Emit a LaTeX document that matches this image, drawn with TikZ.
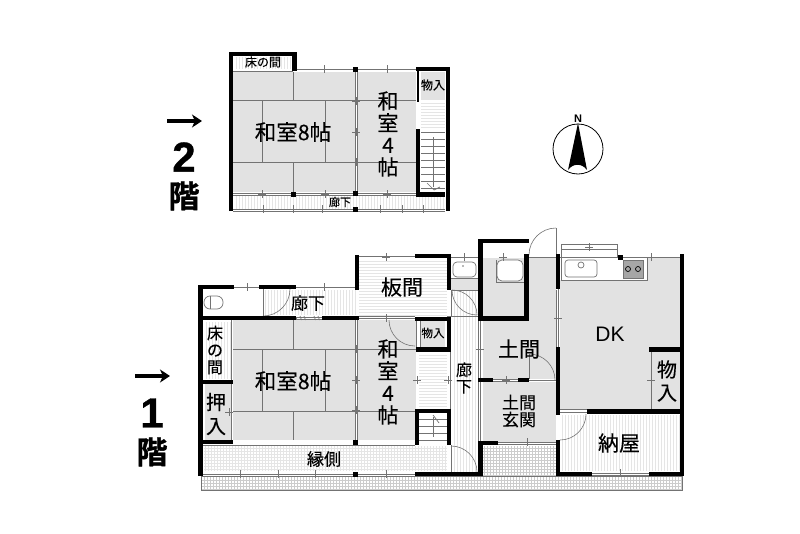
\documentclass[tikz,border=0pt]{standalone}
\usepackage{fontspec}
\newfontfamily\jp[FakeBold=0.25]{Noto Sans CJK JP}
\newfontfamily\jpheavy[FakeBold=1.2]{Noto Sans CJK JP Bold}
\newfontfamily\numheavy[FakeBold=0.8]{Liberation Sans Bold}
\setsansfont{Liberation Sans}
\usetikzlibrary{calc}
\usetikzlibrary{arrows.meta}
\definecolor{floorGray}{gray}{0.885}
\definecolor{hatchGray}{gray}{0.90}
\definecolor{gridGray}{gray}{0.80}
\definecolor{lineGray}{gray}{0.45}
\tikzset{
  wall/.style = {color=#1, line width=4.5pt},
  thin wall/.style = {color=#1, line width=0.7pt},
  hatch/.style = {color=#1, line width=0.35pt},
  door/.style = {color=#1, line width=0.6pt},
  tatami/.style = {color=#1, line width=0.8pt},
  mat/.style = {fill=#1},
  label/.style = {text=#1, inner sep=0pt, align=center}
}
\newcommand{\tick}[2][]{%
  % #1: optional scope keys
  % #2: centre of the cross
  \begin{scope}[shift={(#2)}, #1]
    \draw[thin wall={lineGray}] (-4,0) -- (4,0);
    \draw[thin wall={lineGray}] (0,-4) -- (0,4);
  \end{scope}
}
\newcommand{\post}[1]{\fill[black] ($(#1)+(-2.5,-2.5)$) rectangle ($(#1)+(2.5,2.5)$);}
\begin{document}
\begin{tikzpicture}[x=1pt,y=-1pt]

    \useasboundingbox (0,0) rectangle (800,533);

    % Second floor: floors
    \fill[mat={floorGray}] (233,72) rectangle (416,192);
    \fill[mat={floorGray}] (421,72) rectangle (445,100);
    \fill[white] (354.5,70) rectangle (357,193);
    \foreach \x in {236,239,...,290} {\draw[hatch={hatchGray}] (\x,57) -- (\x,69);}
    \foreach \y in {103,106,...,128} {\draw[hatch={hatchGray}] (421,\y) -- (445,\y);}
    \foreach \x in {236,239,...,444} {\draw[hatch={hatchGray}] (\x,196) -- (\x,209);}

    % Second floor: mat lines
    \draw[tatami={lineGray}] (233,100) -- (416,100);
    \draw[tatami={lineGray}] (233,162) -- (416,162);
    \draw[tatami={lineGray}] (262,100) -- (262,162);
    \draw[tatami={lineGray}] (325,100) -- (325,162);
    \draw[tatami={lineGray}] (293,72) -- (293,100);
    \draw[tatami={lineGray}] (293,162) -- (293,192);
    \draw[thin wall={lineGray}] (295,69) -- (416,69);
    \draw[thin wall={lineGray}] (355,70) -- (355,193);
    \draw[thin wall={lineGray}] (357,70) -- (357,193);
    \draw[thin wall={lineGray}] (233,71) -- (293,71);
    \draw[thin wall={lineGray}] (233,193) -- (416,193);
    \draw[thin wall={lineGray}] (233,195) -- (416,195);
    \draw[thin wall={lineGray}] (233,211) -- (445,211);
    \draw[thin wall={lineGray}] (233,209) -- (445,209);

    % Second floor: stairs
    \foreach \y in {132,139,...,188} {\draw[thin wall={lineGray}] (421,\y) -- (445,\y);}
    \draw[thin wall={lineGray}] (433,137) -- (433,187);
    \draw[thin wall={lineGray}] (427,183) -- (434,190) -- (440,187);

    % Second floor: walls
    \draw[wall={black}] (231.2,211) -- (231.2,54) -- (294.5,54) -- (294.5,71);
    \draw[wall={black}] (416,69.2) -- (447.8,69.2) -- (447.8,211);
    \draw[wall={black}] (418,129) -- (418,194.5) -- (445,194.5);
    \draw[black,line width=2pt] (418,71) -- (418,102);
    \post{355,69}
    \post{293,194}
    \post{355,193}
    \post{355,209}

    % Second floor: ticks
    \tick{324,69}
    \tick{387,69}
    \tick{356,101}
    \tick{356,132}
    \tick{356,162}
    \tick{262,194}
    \tick{325,194}
    \tick{387,194}
    \tick{263,209}
    \tick{293,209}
    \tick{322,209}
    \tick{380,209}
    \tick{402,209}
    \tick{423,209}

    % First floor: floors
    \fill[mat={floorGray}] (233,320) rectangle (416,440);
    \fill[mat={floorGray}] (205,384) rectangle (231,440);
    \fill[white] (354.5,320) rectangle (357,440);
    \fill[mat={floorGray}] (420,321) rectangle (445,347);
    \fill[mat={floorGray}] (483,258) rectangle (556,379);
    \fill[mat={floorGray}] (483,382) rectangle (556,442);
    \fill[mat={floorGray}] (560,280) rectangle (680,409);
    \fill[mat={floorGray}] (647,258) rectangle (680,280);
    \fill[mat={floorGray}] (451,278) rectangle (478,290);

    % First floor: hatches
    \foreach \y in {261,264,...,316} {\draw[hatch={hatchGray}] (359,\y) -- (447,\y);}
    \foreach \y in {355,358,...,408} {\draw[hatch={hatchGray}] (419,\y) -- (447,\y);}
    \foreach \x in {265,268,...,355} {\draw[hatch={hatchGray}] (\x,290) -- (\x,315);}
    \foreach \x in {454,457,...,477} {\draw[hatch={hatchGray}] (\x,291) -- (\x,472);}
    \foreach \x in {206,209,...,230} {\draw[hatch={hatchGray}] (\x,322) -- (\x,379);}
    \foreach \x in {562,565,...,679} {\draw[hatch={hatchGray}] (\x,415) -- (\x,471);}
    \foreach \x in {204,207,...,681} {\draw[hatch={gridGray}] (\x,477) -- (\x,489);}
    \foreach \y in {480,483,...,489} {\draw[hatch={gridGray}] (201,\y) -- (682,\y);}
    \foreach \x in {484,487,...,555} {\draw[hatch={gridGray}] (\x,446) -- (\x,476);}
    \foreach \y in {448,451,...,475} {\draw[hatch={gridGray}] (483,\y) -- (556,\y);}
    \foreach \x in {205,208,...,446} {\draw[hatch={hatchGray}] (\x,446) -- (\x,471);}
    \foreach \y in {448,451,...,471} {\draw[hatch={hatchGray}] (204,\y) -- (447,\y);}
    \draw[thin wall={lineGray}] (201,476) rectangle (682,490);

    % First floor: mat lines
    \draw[tatami={lineGray}] (233,349) -- (416,349);
    \draw[tatami={lineGray}] (233,411) -- (416,411);
    \draw[tatami={lineGray}] (262,349) -- (262,411);
    \draw[tatami={lineGray}] (325,349) -- (325,411);
    \draw[tatami={lineGray}] (293,320) -- (293,349);
    \draw[tatami={lineGray}] (293,411) -- (293,440);
    \draw[thin wall={lineGray}] (355,320) -- (355,440);
    \draw[thin wall={lineGray}] (357,320) -- (357,440);
    \draw[thin wall={lineGray}] (231,320) -- (231,380);
    \draw[thin wall={lineGray}] (231,384) -- (231,440);
    \draw[thin wall={lineGray}] (203,445) -- (415,445);
    \draw[thin wall={lineGray}] (234,287) -- (259,287);
    \draw[thin wall={lineGray}] (296,287) -- (357,287);
    \draw[thin wall={lineGray}] (359,256) -- (415,256);
    \draw[thin wall={lineGray}] (359,316) -- (415,316);
    \draw[thin wall={lineGray}] (358,318) -- (415,318);
    \draw[thin wall={lineGray}] (203,474) -- (415,474);
    \draw[thin wall={lineGray}] (451,257) -- (478,257);
    \draw[thin wall={lineGray}] (529,257) -- (556,257);
    \draw[thin wall={lineGray}] (451,290) -- (478,290);
    \draw[thin wall={lineGray}] (451,278) -- (478,278);
    \draw[thin wall={lineGray}] (447,316) -- (478,316);
    \draw[thin wall={lineGray}] (451,290) -- (451,316);
    \draw[thin wall={lineGray}] (478,290) -- (478,316);
    \draw[thin wall={lineGray}] (480,321) -- (480,441);
    \draw[thin wall={lineGray}] (478,321) -- (478,441);
    \draw[thin wall={lineGray}] (450,352) -- (450,409);
    \draw[thin wall={lineGray}] (558,289) -- (558,347);
    \draw[thin wall={lineGray}] (556,290) -- (556,347);
    \draw[thin wall={lineGray}] (493,379) -- (518,379);
    \draw[thin wall={lineGray}] (493,381) -- (518,381);
    \draw[thin wall={lineGray}] (529,380) -- (556,380);
    \draw[thin wall={lineGray}] (498,442) -- (556,442);
    \draw[thin wall={lineGray}] (498,444) -- (556,444);
    \draw[thin wall={lineGray}] (592,473) -- (649,473);
    \draw[thin wall={lineGray}] (592,475) -- (649,475);
    \draw[thin wall={lineGray}] (560,257) -- (680,257);
    \draw[thin wall={lineGray}] (651,352) -- (651,409);
    \draw[thin wall={lineGray}] (560,409) -- (587,409);
    \draw[thin wall={lineGray}] (560,412) -- (587,412);
    \draw[thin wall={lineGray}] (451,445) -- (451,472);
    \draw[thin wall={lineGray}] (416,321) -- (416,347);
    \draw[thin wall={lineGray}] (420,321) -- (420,347);

    % First floor: stairs
    \foreach \y in {419,426,...,440} {\draw[thin wall={lineGray}] (419,\y) -- (447,\y);}
    \draw[thin wall={lineGray}] (433,417) -- (433,437);
    \draw[thin wall={lineGray}] (433,415) -- (439,423);

    % First floor: fittings
    \draw[thin wall={lineGray}] (210,296) -- (210,309);
    \draw[thin wall={lineGray},rounded corners=6pt] (204,296) rectangle (223,309);
    \draw[thin wall={lineGray},rounded corners=4pt,fill=white] (453,262) rectangle (476,277);
    \fill[lineGray] (463,266) circle (0.8);
    \draw[thin wall={lineGray}] (496,260) -- (496,282) -- (524,282);
    \draw[thin wall={lineGray},rounded corners=5pt,fill=white] (497,260) rectangle (523,281);
    \draw[thin wall={lineGray}] (561,244) rectangle (617,257);
    \draw[thin wall={lineGray}] (561,249) -- (617,249);
    \fill[white] (561,258) rectangle (647,280);
    \draw[thin wall={lineGray}] (561,258) -- (561,280) -- (647,280) -- (647,258);
    \draw[thin wall={lineGray},rounded corners=3pt] (565,260) rectangle (597,277);
    \draw[thin wall={lineGray}] (581,265) circle (3);
    \draw[thin wall={lineGray},fill=black!35] (623,260) rectangle (643,278);
    \draw[thin wall={black}] (628,269) circle (2.5);
    \draw[thin wall={black}] (638,269) circle (2.5);
    \draw[thin wall={lineGray},fill=white] (296,317) rectangle (322,319);
    \foreach \x in {300,304,318,314} {\draw[thin wall={lineGray}] (\x,316) -- (\x+1.5,320);}

    % First floor: doors
    \draw[door={lineGray}] (263,289) -- (263,316);
    \draw[door={lineGray}] (263,316) arc (90:0:27);
    \draw[door={lineGray}] (556,255) -- (556,228);
    \draw[door={lineGray}] (529,255) arc (180:270:27);
    \draw[door={lineGray}] (452,290) arc (-90:0:25);
    \draw[door={lineGray}] (452,290) arc (180:90:25);
    \draw[door={lineGray}] (529,354) -- (529,379);
    \draw[door={lineGray}] (529,354) arc (-90:0:26);
    \draw[door={lineGray}] (586,414) arc (0:90:26);
    \draw[door={lineGray}] (451,446) arc (-90:0:26);
    \draw[door={lineGray}] (389,320) arc (180:90:26);

    % First floor: walls
    \draw[wall={black}] (200.5,476) -- (200.5,287) -- (234,287);
    \draw[wall={black}] (259,287) -- (296,287);
    \draw[wall={black}] (198,318) -- (296,318);
    \draw[wall={black}] (322,318) -- (359,318);
    \draw[wall={black}] (203,382) -- (233,382);
    \draw[wall={black}] (203,442) -- (233,442);
    \draw[wall={black}] (357,255) -- (357,290);
    \draw[wall={black}] (415,256) -- (449,256) -- (449,290);
    \draw[wall={black}] (415,319) -- (449,319) -- (449,349.5) -- (416,349.5);
    \draw[wall={black}] (417,445) -- (417,411) -- (449,411) -- (449,445);
    \draw[wall={black}] (415,474) -- (480.5,474) -- (480.5,443) -- (498,443);
    \draw[wall={black}] (480.5,321) -- (480.5,241) -- (529,241);
    \draw[wall={black}] (478,318.5) -- (526.5,318.5) -- (526.5,254);
    \draw[wall={black}] (558,254) -- (558,289);
    \draw[wall={black}] (558,347) -- (558,415);
    \draw[wall={black}] (558,440) -- (558,474) -- (592,474);
    \draw[wall={black}] (649,474) -- (682,474) -- (682,254);
    \draw[wall={black}] (649,349.5) -- (682,349.5);
    \draw[wall={black}] (587,411.5) -- (682,411.5);
    \draw[wall={black}] (478,380) -- (493,380);
    \draw[wall={black}] (518,380) -- (529,380);
    \post{355,442}
    \post{355,474}
    \post{620,257}

    % First floor: ticks
    \tick{247,287}
    \tick{324,287}
    \tick{386,257}
    \tick{386,318}
    \tick{356,349}
    \tick{356,380}
    \tick{356,410}
    \tick{229,412}
    \tick{417,380}
    \tick{240,474}
    \tick{278,474}
    \tick{315,474}
    \tick{386,474}
    \tick{464,257}
    \tick{503,257}
    \tick{589,247}
    \tick{651,257}
    \tick{558,318}
    \tick{480,349}
    \tick{506,380}
    \tick{448,380}
    \tick{651,380}
    \tick{527,442}
    \tick{620,473}

    % Floor marks
    \draw[black,line width=3.5pt,-{Stealth[length=10pt,width=13pt,inset=3pt]}] (167,121) -- (202,121);
    \draw[black,line width=3.5pt,-{Stealth[length=10pt,width=13pt,inset=3pt]}] (135,376) -- (170,376);
    \node[label={black},font=\numheavy\fontsize{42}{42}\selectfont] (n2) at (184,157) {2};
    \node[label={black},font=\jpheavy\fontsize{31}{31}\selectfont] (kai2) at (184,196) {階};
    \node[label={black},font=\numheavy\fontsize{42}{42}\selectfont] (n1) at (152,413) {1};
    \node[label={black},font=\jpheavy\fontsize{31}{31}\selectfont] (kai1) at (152,452) {階};

    % Compass
    \draw[black,line width=0.8pt] (578,149) circle (25);
    \fill[black] (578,123) -- (587,170) .. controls (582,163) and (573,163) .. (568,170) -- cycle;
    \node[label={black},font=\sffamily\bfseries\fontsize{11}{11}\selectfont] (north) at (578,119) {N};

    % Labels
    \node[label={black},font=\jp\fontsize{21.5}{21.5}\selectfont] (room8a) at (293,132) {和室8帖};
    \node[label={black},font=\jp\fontsize{21}{22}\selectfont] (room4a) at (388,134) {和\\室\\4\\帖};
    \node[label={black},font=\jp\fontsize{12}{12}\selectfont] (toko2) at (263,62) {床の間};
    \node[label={black},font=\jp\fontsize{12}{12}\selectfont] (mono2) at (433,85) {物入};
    \node[label={black},font=\jp\fontsize{11}{11}\selectfont] (rouka2) at (340,202) {廊下};
    \node[label={black},font=\jp\fontsize{21.5}{21.5}\selectfont] (room8b) at (293,381) {和室8帖};
    \node[label={black},font=\jp\fontsize{21}{22}\selectfont] (room4b) at (388,382) {和\\室\\4\\帖};
    \node[label={black},font=\jp\fontsize{16}{17}\selectfont] (toko1) at (215,350) {床\\の\\間};
    \node[label={black},font=\jp\fontsize{20}{24}\selectfont] (oshi) at (216,414) {押\\入};
    \node[label={black},font=\jp\fontsize{17}{17}\selectfont] (rouka1) at (308,303) {廊下};
    \node[label={black},font=\jp\fontsize{21}{21}\selectfont] (itama) at (402,287) {板間};
    \node[label={black},font=\jp\fontsize{11.5}{11.5}\selectfont] (mono1) at (433,333) {物入};
    \node[label={black},font=\jp\fontsize{16}{16.5}\selectfont] (rouka3) at (464,378) {廊\\下};
    \node[label={black},font=\jp\fontsize{21}{21}\selectfont] (doma) at (519,349) {土間};
    \node[label={black},font=\jp\fontsize{17}{17}\selectfont] (genkan) at (519,411) {土間\\玄関};
    \node[label={black},font=\sffamily\fontsize{21}{21}\selectfont] (dk) at (610,334) {DK};
    \node[label={black},font=\jp\fontsize{20}{23}\selectfont] (mono3) at (667,381) {物\\入};
    \node[label={black},font=\jp\fontsize{21}{21}\selectfont] (naya) at (619,443) {納屋};
    \node[label={black},font=\jp\fontsize{17}{17}\selectfont] (engawa) at (324,459) {縁側};

\end{tikzpicture}
\end{document}
